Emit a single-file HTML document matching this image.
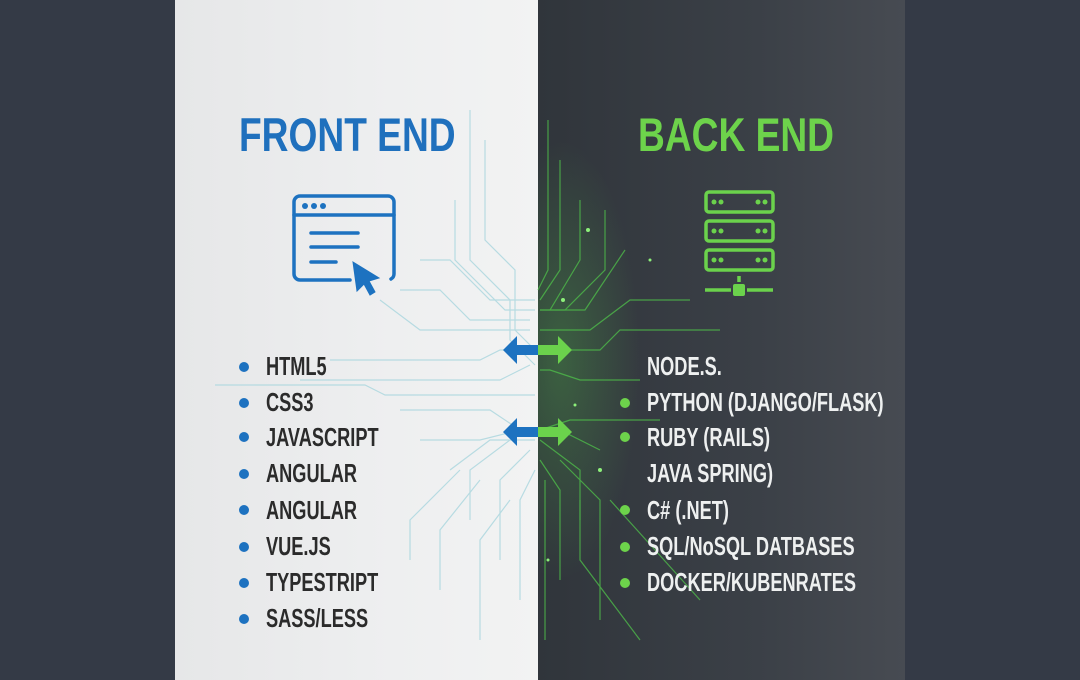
<!DOCTYPE html>
<html><head><meta charset="utf-8"><style>
body{margin:0;width:1080px;height:680px;overflow:hidden;background:#343a46;position:relative;font-family:"Liberation Sans",sans-serif}
#l{position:absolute;left:175px;top:0;width:363px;height:680px;background:linear-gradient(90deg,#e6e7e8,#eeeff0 60%,#f2f3f3)}
#r{position:absolute;left:538px;top:0;width:367px;height:680px;background:linear-gradient(90deg,#30353b,#3b4047 60%,#474b52)}
.t{position:absolute;font-weight:bold;transform-origin:0 0;transform:scaleX(.70);white-space:nowrap}
.h{font-size:47px;top:107px;transform:scaleX(.79)}
.i{font-size:26px;color:#2b2b2b}
.ri{color:#eef0f0}
.b{position:absolute;width:10px;height:10px;border-radius:50%}
svg{position:absolute;left:0;top:0}
</style></head><body>
<div id="l"></div><div id="r"></div>
<svg width="1080" height="680">
<defs><radialGradient id="g"><stop offset="0" stop-color="#5be04f" stop-opacity=".25"/><stop offset="1" stop-color="#5be04f" stop-opacity="0"/></radialGradient>
<clipPath id="c"><rect x="538" y="0" width="370" height="680"/></clipPath></defs>
<ellipse cx="560" cy="360" rx="80" ry="220" fill="url(#g)" clip-path="url(#c)"/>
<g fill="none" stroke="#a9d6de" stroke-width="1.2" opacity=".8">
<path d="M470 110 v150 l40 40 v40 l25 25"/><path d="M485 140 v100 l30 30 v60 l20 20"/><path d="M455 200 v60 l50 50 h30"/>
<path d="M420 260 h30 l40 40 h45"/><path d="M400 290 h40 l30 30 h60"/><path d="M380 300 l40 30 h110"/>
<path d="M330 360 h150 l20 -10 h35"/><path d="M300 380 h200 l30 -15"/><path d="M215 385 h150 l20 10 h150"/>
<path d="M400 410 h90 l30 20 h15"/><path d="M420 440 h60 l40 -10"/><path d="M450 470 l40 -30 h45"/>
<path d="M470 520 v-50 l40 -30"/><path d="M500 560 v-80 l30 -30"/><path d="M520 600 v-100 l15 -30"/><path d="M480 640 v-100 l30 -40"/>
<path d="M440 590 v-60 l40 -50"/><path d="M410 560 v-40 l50 -50"/>
</g>
<g fill="none" stroke="#4fc34a" stroke-width="1.2" opacity=".75">
<path d="M548 120 v150 l-10 20"/><path d="M560 160 v110 l-20 30"/><path d="M580 200 v60 l-30 50"/><path d="M605 210 v60 l-40 40 h-25"/>
<path d="M625 250 l-40 60 h-45"/><path d="M690 300 h-60 l-40 30 h-50"/><path d="M720 330 h-100 l-20 20 h-60"/>
<path d="M640 380 h-60 l-30 -10 h-10"/><path d="M660 420 h-90 l-30 10"/><path d="M600 450 l-40 -20 h-20"/>
<path d="M580 520 v-50 l-40 -30"/><path d="M560 580 v-90 l-20 -30"/><path d="M600 620 v-120 l-40 -40"/><path d="M545 640 v-160"/>
<path d="M640 640 l-60 -80 v-60"/><path d="M700 600 l-90 -100"/>
</g>
<g fill="#8df07a"><circle cx="588" cy="230" r="2"/><circle cx="563" cy="300" r="2"/><circle cx="600" cy="470" r="2"/><circle cx="575" cy="405" r="1.5"/><circle cx="650" cy="260" r="1.5"/><circle cx="548" cy="560" r="1.5"/></g>
<g fill="#1d72c0"><path d="M503 350 l14 -14 v9 h21 v10 h-21 v9z"/><path d="M503 432 l14 -14 v9 h21 v10 h-21 v9z"/></g>
<g fill="#6bd24c"><path d="M572 350 l-14 -14 v9 h-20 v10 h20 v9z"/><path d="M572 432 l-14 -14 v9 h-20 v10 h20 v9z"/></g>
<g fill="none" stroke="#1d72c0" stroke-width="3.5" stroke-linecap="round">
<path d="M350 280 h-50 a6 6 0 0 1 -6 -6 v-72 a6 6 0 0 1 6 -6 h88 a6 6 0 0 1 6 6 v72 a6 6 0 0 1 -3 5"/>
<path d="M294 215 h100"/><path d="M311 233 h47 M311 247 h47 M311 262 h25"/>
</g>
<g fill="#1d72c0"><circle cx="305" cy="206" r="3"/><circle cx="314" cy="206" r="3"/><circle cx="323" cy="206" r="3"/>
<path d="M353 262 l26 16 l-10 3 l6 11 l-5 3 l-6 -11 l-7 7z" stroke="#1d72c0" stroke-width="1"/></g>
<g fill="none" stroke="#6bd24c" stroke-width="3.5">
<rect x="706" y="192" width="67" height="20" rx="3"/><rect x="706" y="221" width="67" height="20" rx="3"/><rect x="706" y="250" width="67" height="20" rx="3"/>
<path d="M739 276 v6 M705 290 h26 M747 290 h26"/></g>
<g fill="#6bd24c"><rect x="733" y="284" width="12" height="12" rx="2"/>
<circle cx="714" cy="202" r="2.5"/><circle cx="721" cy="202" r="2.5"/><circle cx="758" cy="202" r="2.5"/><circle cx="765" cy="202" r="2.5"/>
<circle cx="714" cy="231" r="2.5"/><circle cx="721" cy="231" r="2.5"/><circle cx="758" cy="231" r="2.5"/><circle cx="765" cy="231" r="2.5"/>
<circle cx="714" cy="260" r="2.5"/><circle cx="721" cy="260" r="2.5"/><circle cx="758" cy="260" r="2.5"/><circle cx="765" cy="260" r="2.5"/></g>
</svg>
<div class="t h" style="left:239px;color:#1f70bd">FRONT END</div>
<div class="t h" style="left:638px;color:#6dd34b">BACK END</div>
<div class="b" style="left:239px;top:362px;background:#1d72c0"></div><div class="t i" style="left:266px;top:351px">HTML5</div>
<div class="b" style="left:239px;top:398px;background:#1d72c0"></div><div class="t i" style="left:266px;top:387px">CSS3</div>
<div class="b" style="left:239px;top:432px;background:#1d72c0"></div><div class="t i" style="left:266px;top:422px">JAVASCRIPT</div>
<div class="b" style="left:239px;top:469px;background:#1d72c0"></div><div class="t i" style="left:266px;top:458px">ANGULAR</div>
<div class="b" style="left:239px;top:505px;background:#1d72c0"></div><div class="t i" style="left:266px;top:495px">ANGULAR</div>
<div class="b" style="left:239px;top:542px;background:#1d72c0"></div><div class="t i" style="left:266px;top:531px">VUE.JS</div>
<div class="b" style="left:239px;top:578px;background:#1d72c0"></div><div class="t i" style="left:266px;top:567px">TYPESTRIPT</div>
<div class="b" style="left:239px;top:614px;background:#1d72c0"></div><div class="t i" style="left:266px;top:603px">SASS/LESS</div>
<div class="t i ri" style="left:647px;top:351px">NODE.S.</div>
<div class="b" style="left:620px;top:398px;background:#6dd34b"></div><div class="t i ri" style="left:647px;top:387px">PYTHON (DJANGO/FLASK)</div>
<div class="b" style="left:620px;top:432px;background:#6dd34b"></div><div class="t i ri" style="left:647px;top:422px">RUBY (RAILS)</div>
<div class="t i ri" style="left:647px;top:458px">JAVA SPRING)</div>
<div class="b" style="left:620px;top:505px;background:#6dd34b"></div><div class="t i ri" style="left:647px;top:495px">C# (.NET)</div>
<div class="b" style="left:620px;top:542px;background:#6dd34b"></div><div class="t i ri" style="left:647px;top:531px">SQL/NoSQL DATBASES</div>
<div class="b" style="left:620px;top:578px;background:#6dd34b"></div><div class="t i ri" style="left:647px;top:567px">DOCKER/KUBENRATES</div>
</body></html>
